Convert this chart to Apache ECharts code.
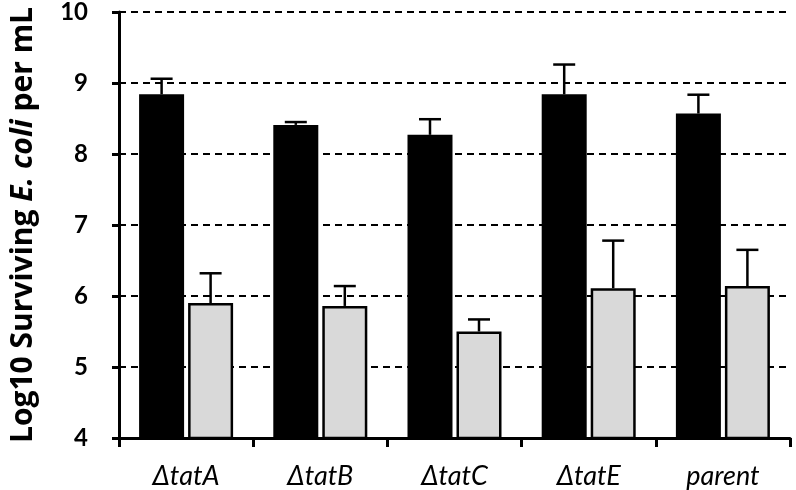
<!DOCTYPE html>
<html>
<head>
<meta charset="utf-8">
<script src="https://cdn.jsdelivr.net/npm/echarts@6/dist/echarts.min.js"></script>
<style>html,body{margin:0;padding:0;background:#fff}#c{width:796px;height:490px}</style>
</head>
<body>
<div id="c"></div>
<script>
var categories = ['\u0394tatA', '\u0394tatB', '\u0394tatC', '\u0394tatE', 'parent'];
var blackValues = [8.84, 8.41, 8.27, 8.84, 8.57];
var blackErrors = [0.22, 0.04, 0.22, 0.42, 0.265];
var grayValues = [5.90, 5.86, 5.50, 6.11, 6.14];
var grayErrors = [0.42, 0.28, 0.17, 0.67, 0.51];
var yTicks = [4, 5, 6, 7, 8, 9, 10];

var FONT = 'Lato';
var TITLE_FONT = 'Open Sans';
var chart = echarts.init(document.getElementById('c'), null, {renderer: 'canvas'});

function errSeries(values, errors, seriesIdx) {
  var data = values.map(function (v, i) { return [i, v, v + errors[i]]; });
  return {
    type: 'custom',
    z: 1,
    silent: true,
    data: data,
    renderItem: function (params, api) {
      var x = api.value(0);
      var lo = api.coord([x, api.value(1)]);
      var hi = api.coord([x, api.value(2)]);
      var barW = 45, gap = 4;
      var offset = (seriesIdx === 0 ? -1 : 1) * (barW + gap) / 2;
      var cx = lo[0] + offset;
      var capHalf = 11;
      var style = {stroke: '#000', lineWidth: 2.5, fill: null};
      return {
        type: 'group',
        children: [
          {type: 'line', shape: {x1: cx, y1: lo[1], x2: cx, y2: hi[1]}, style: style},
          {type: 'line', shape: {x1: cx - capHalf, y1: hi[1], x2: cx + capHalf, y2: hi[1]}, style: style}
        ]
      };
    }
  };
}

chart.setOption({
  animation: false,
  grid: {left: 104, right: 6, top: 9.3, bottom: 52, containLabel: false},
  xAxis: {
    type: 'category',
    data: categories,
    boundaryGap: true,
    axisLine: {lineStyle: {color: '#000', width: 3}},
    axisTick: {show: true, length: 9, lineStyle: {color: '#000', width: 3}},
    axisLabel: {color: '#000', fontFamily: FONT, fontStyle: 'italic', fontSize: 27, margin: 25}
  },
  yAxis: {
    type: 'value',
    min: 4, max: 10, interval: 1,
    axisLine: {show: true, lineStyle: {color: '#000', width: 3}},
    axisTick: {show: true, length: 7, lineStyle: {color: '#000', width: 3}},
    axisLabel: {color: '#000', fontFamily: FONT, fontWeight: 'bold', fontSize: 24, margin: 31,
      formatter: function (v) { return yTicks.indexOf(v) >= 0 ? String(v) : ''; }},
    splitLine: {show: true, lineStyle: {color: '#000', width: 2, type: [7, 5]}},
    name: '{a|Log10 Surviving }{b|E. coli}{a| per mL}',
    nameLocation: 'middle',
    nameGap: 81,
    nameRotate: 90,
    nameTextStyle: {
      fontSize: 30, fontWeight: 'bold', fontFamily: TITLE_FONT, color: '#000',
      rich: {
        a: {fontFamily: TITLE_FONT, fontWeight: 'bold', fontSize: 30, color: '#000'},
        b: {fontFamily: TITLE_FONT, fontWeight: 'bold', fontStyle: 'italic', fontSize: 30, color: '#000'}
      }
    }
  },
  series: [
    {type: 'bar', data: blackValues, barWidth: 45, barGap: '8.9%',
      itemStyle: {color: '#000', borderColor: '#000', borderWidth: 2}, z: 2},
    {type: 'bar', data: grayValues, barWidth: 45,
      itemStyle: {color: '#d9d9d9', borderColor: '#000', borderWidth: 2.5}, z: 2},
    errSeries(blackValues, blackErrors, 0),
    errSeries(grayValues, grayErrors, 1)
  ]
});
</script>
</body>
</html>
